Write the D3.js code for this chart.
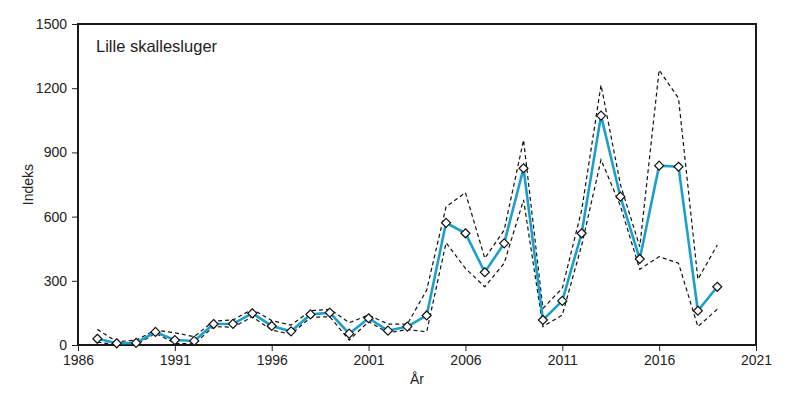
<!DOCTYPE html>
<html>
<head>
<meta charset="utf-8">
<script src="https://cdn.jsdelivr.net/npm/d3@7"></script>
<style>
  body { margin: 0; background: #fff; }
  text { font-family: "Liberation Sans", Arial, sans-serif; fill: #222; }
</style>
</head>
<body>
<div id="chart"></div>
<script>
// data
const years = d3.range(1987, 2020);
const index = [29, 8, 10, 61, 23, 19, 98, 99, 148, 89, 64, 143, 151, 53, 125, 67, 86, 138,
  571, 522, 340, 475, 826, 117, 206, 522, 1072, 693, 402, 838, 833, 160, 272];
const upper = [73, 15, 23, 70, 57, 39, 112, 117, 167, 114, 93, 160, 167, 104, 140, 98, 97, 257,
  646, 712, 405, 537, 958, 171, 265, 630, 1215, 750, 459, 1285, 1153, 307, 467];
const lower = [14, 0, 0, 55, 8, 5, 86, 83, 132, 70, 50, 129, 132, 23, 109, 57, 72, 62,
  478, 358, 272, 382, 678, 86, 140, 466, 866, 650, 354, 413, 382, 86, 167];
const xTicks = [1986, 1991, 1996, 2001, 2006, 2011, 2016, 2021];
const yTicks = [0, 300, 600, 900, 1200, 1500];

const width = 800;
const height = 393;
const margin = {top: 24, right: 44, bottom: 48, left: 78};

const svg = d3.select("#chart").append("svg")
  .attr("width", width)
  .attr("height", height);

const x = d3.scaleLinear().domain([1986, 2021]).range([margin.left, width - margin.right]);
const y = d3.scaleLinear().domain([0, 1500]).range([height - margin.bottom, margin.top]);

// axes
const xAxis = svg.append("g")
  .attr("transform", `translate(0,${y(0)})`)
  .call(d3.axisBottom(x).tickValues(xTicks).tickFormat(d3.format("d")).tickSize(6).tickPadding(4));
const yAxis = svg.append("g")
  .attr("transform", `translate(${x(1986)},0)`)
  .call(d3.axisLeft(y).tickValues(yTicks).tickFormat(d3.format("d")).tickSize(6).tickPadding(5));

[xAxis, yAxis].forEach(g => {
  g.select(".domain").remove();
  g.selectAll("line").attr("stroke", "#222").attr("stroke-width", 1);
  g.selectAll("text").style("font-size", "14px").attr("fill", "#222");
});

// frame
svg.append("rect")
  .attr("x", x(1986))
  .attr("y", y(1500))
  .attr("width", x(2021) - x(1986))
  .attr("height", y(0) - y(1500))
  .attr("fill", "none")
  .attr("stroke", "#1a1a1a")
  .attr("stroke-width", 2);

// dashed bounds
const line = vals => d3.line()
  .x((d, i) => x(years[i]))
  .y(d => y(d))(vals);

[upper, lower].forEach(vals => {
  svg.append("path")
    .attr("d", line(vals))
    .attr("fill", "none")
    .attr("stroke", "#111")
    .attr("stroke-width", 1.2)
    .attr("stroke-dasharray", "4,3");
});

// index line
svg.append("path")
  .attr("d", line(index))
  .attr("fill", "none")
  .attr("stroke", "#1d9fcb")
  .attr("stroke-width", 2.6);

// markers
svg.append("g").selectAll("path")
  .data(index)
  .join("path")
  .attr("transform", (d, i) => `translate(${x(years[i])},${y(d)})`)
  .attr("d", "M0,-4.5L4.5,0L0,4.5L-4.5,0Z")
  .attr("fill", "#fff")
  .attr("stroke", "#111")
  .attr("stroke-width", 1.2);

// labels
svg.append("text")
  .attr("x", x(1986) + 18)
  .attr("y", y(1500) + 28)
  .style("font-size", "16.5px")
  .text("Lille skallesluger");

svg.append("text")
  .attr("x", (x(1986) + x(2021)) / 2)
  .attr("y", 384)
  .attr("text-anchor", "middle")
  .style("font-size", "14px")
  .text("År");

svg.append("text")
  .attr("transform", `translate(33,${(y(0) + y(1500)) / 2}) rotate(-90)`)
  .attr("text-anchor", "middle")
  .style("font-size", "14px")
  .text("Indeks");
</script>
</body>
</html>
